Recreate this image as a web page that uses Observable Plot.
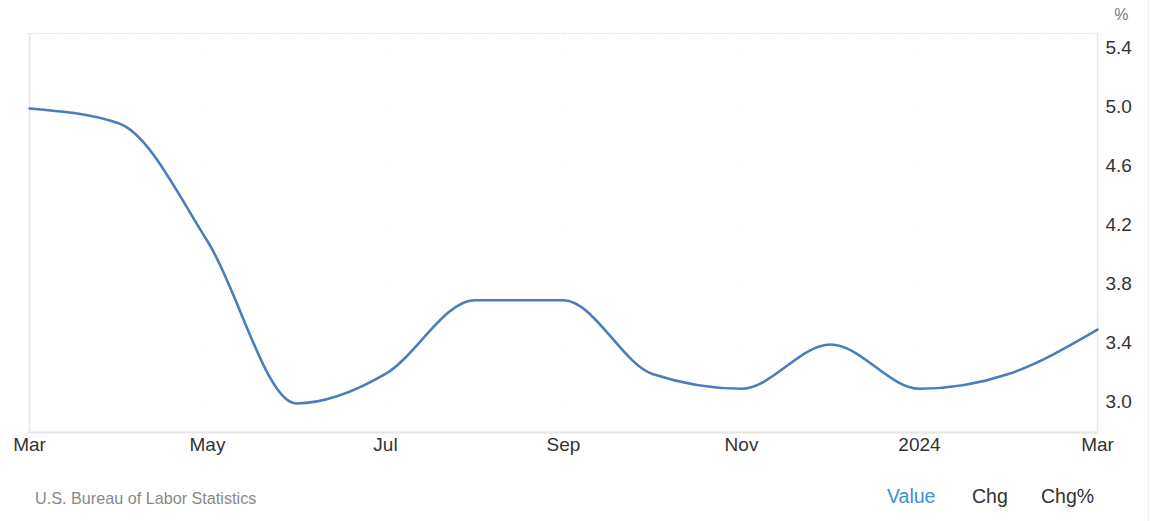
<!DOCTYPE html>
<html>
<head>
<meta charset="utf-8">
<script src="https://cdn.jsdelivr.net/npm/d3@7"></script>
<script src="https://cdn.jsdelivr.net/npm/@observablehq/plot@0.6"></script>
<style>
  html, body { margin: 0; padding: 0; background: #fff; }
  body { font-family: "Liberation Sans", Arial, sans-serif; }
  #wrap { position: relative; width: 1148px; height: 521px; border-right: 1px solid #f0f0f0; }
  #chart { position: absolute; left: 0; top: 0; }
  .foot { position: absolute; top: 484px; font-size: 19.5px; line-height: 24px; }
  #src { left: 35px; font-size: 16.2px; color: #888; top: 486px; }
</style>
</head>
<body>
<div id="wrap">
  <div id="chart"></div>
  <div id="src" class="foot">U.S. Bureau of Labor Statistics</div>
  <div class="foot" style="left:887px;color:#3b8fdc;">Value</div>
  <div class="foot" style="left:972px;color:#333;">Chg</div>
  <div class="foot" style="left:1041px;color:#333;">Chg%</div>
</div>
<script>
// Data
const months = ["2023-03","2023-04","2023-05","2023-06","2023-07","2023-08","2023-09","2023-10","2023-11","2023-12","2024-01","2024-02","2024-03"];
const values = [5.0, 4.9, 4.1, 3.0, 3.2, 3.7, 3.7, 3.2, 3.1, 3.4, 3.1, 3.2, 3.5];
const tickMonths = ["2023-03","2023-05","2023-07","2023-09","2023-11","2024-01","2024-03"];
const tickLabels = ["Mar","May","Jul","Sep","Nov","2024","Mar"];
const yTicks = [3.0, 3.4, 3.8, 4.2, 4.6, 5.0, 5.4];
const yDomain = [2.803, 5.508];
const unitLabel = ["%"];

const data = months.map((m, i) => ({month: m, value: values[i]}));
const labelOf = new Map(tickMonths.map((m, i) => [m, tickLabels[i]]));
const xEnds = [months[0], months[months.length - 1]];

const gridStyle = {stroke: "#d8d8d8", strokeDasharray: "1.5,1.5", strokeWidth: 1};

const chart = Plot.plot({
  width: 1148,
  height: 470,
  marginLeft: 28,
  marginRight: 50,
  marginTop: 33,
  marginBottom: 38,
  style: {fontFamily: "'Liberation Sans', Arial, sans-serif", background: "#fff"},
  x: {type: "point", domain: months, padding: 0},
  y: {domain: yDomain},
  marks: [
    Plot.gridY(yTicks, gridStyle),
    Plot.gridX(tickMonths.slice(1, -1), gridStyle),
    Plot.ruleY([yDomain[1]], gridStyle),
    Plot.ruleX(xEnds, {stroke: "#e6e6e6", strokeWidth: 1.5}),
    Plot.ruleY([yDomain[0]], {stroke: "#e6e6e6", strokeWidth: 2}),
    Plot.axisX(tickMonths, {
      tickSize: 0, tickPadding: 5, fontSize: 19, fill: "#333",
      tickFormat: d => labelOf.get(d), label: null
    }),
    Plot.axisY(yTicks, {
      anchor: "right", tickSize: 0, tickPadding: 7, fontSize: 19, fill: "#333",
      tickFormat: d => d.toFixed(1), dy: -2, label: null
    }),
    Plot.line(data, {x: "month", y: "value", curve: "monotone-x", stroke: "#4a7dbb", strokeWidth: 2.6}),
    Plot.text(unitLabel, {text: d => d, frameAnchor: "top-right", dx: 30, dy: -25, fontSize: 16, fill: "#777"})
  ]
});
document.getElementById("chart").appendChild(chart);
</script>
</body>
</html>
